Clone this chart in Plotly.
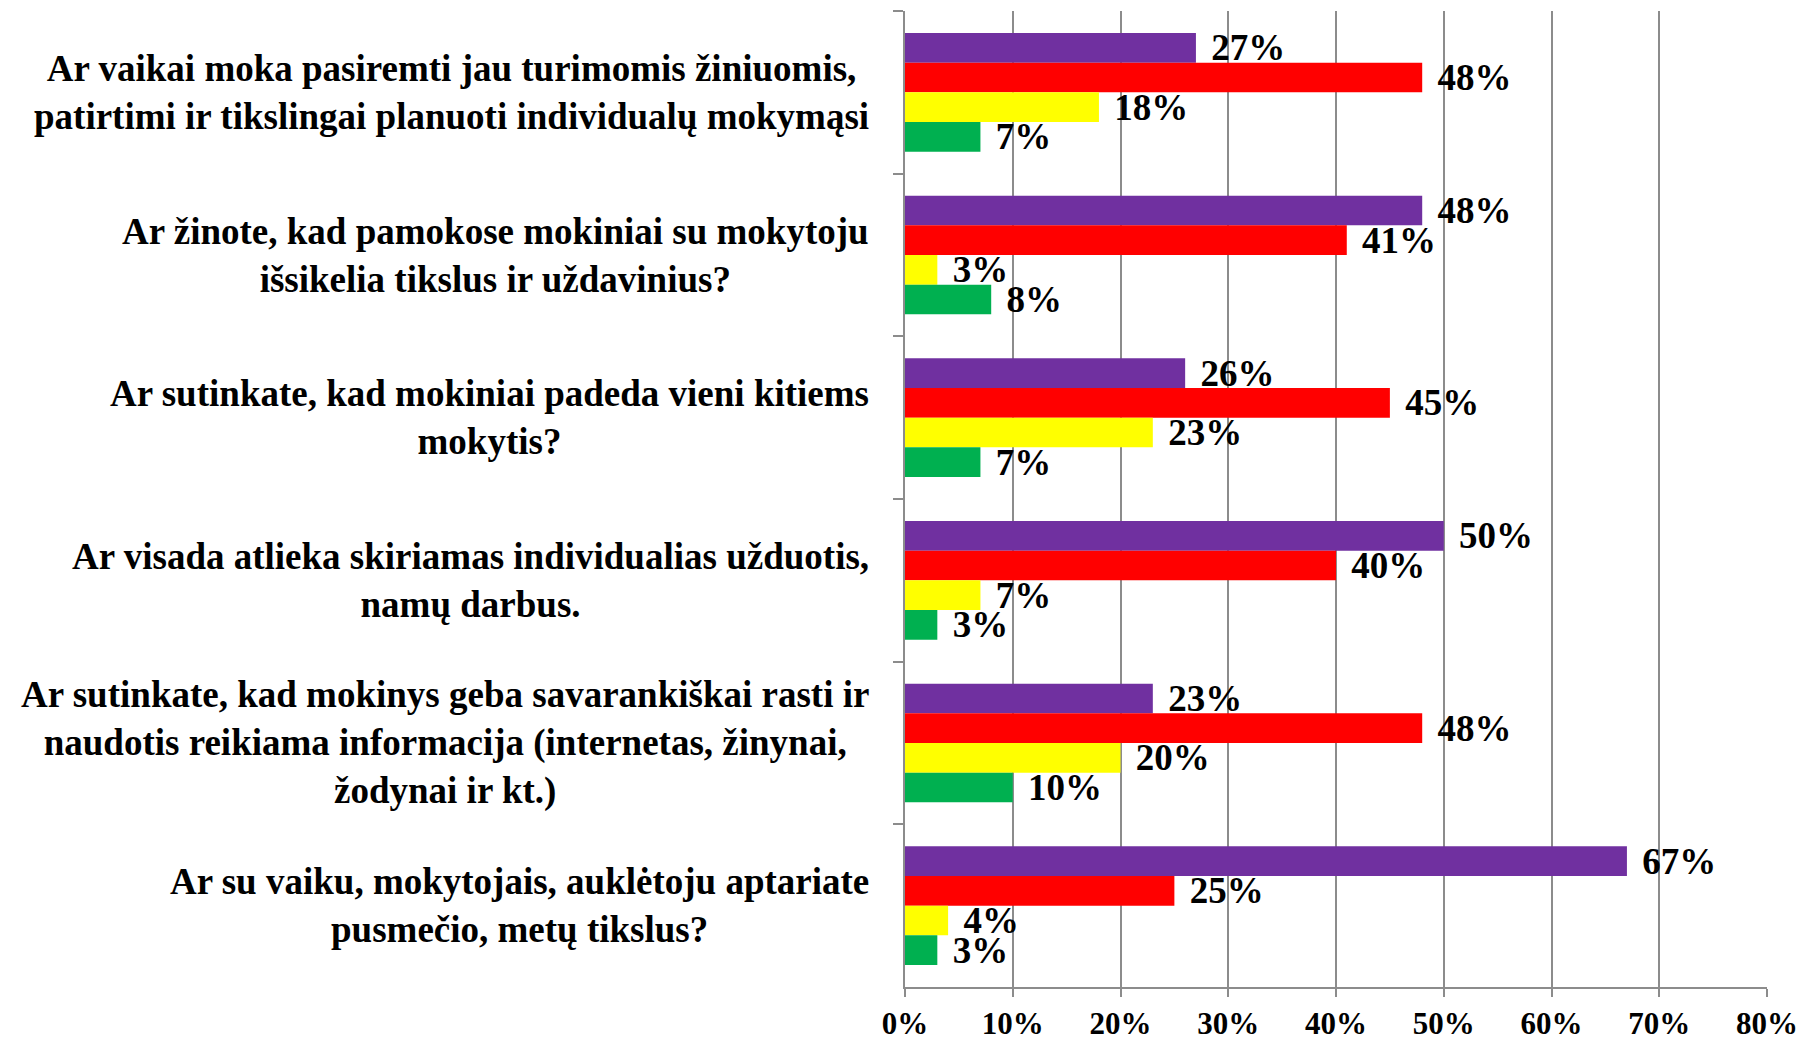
import plotly.graph_objects as go

categories = ["Q1", "Q2", "Q3", "Q4", "Q5", "Q6"]
question_labels = [
    "Ar vaikai moka pasiremti jau turimomis žiniuomis,<br>patirtimi ir tikslingai planuoti individualų mokymąsi",
    "Ar žinote, kad pamokose mokiniai su mokytoju<br>išsikelia tikslus ir uždavinius?",
    "Ar sutinkate, kad mokiniai padeda vieni kitiems<br>mokytis?",
    "Ar visada atlieka skiriamas individualias užduotis,<br>namų darbus.",
    "Ar sutinkate, kad mokinys geba savarankiškai rasti ir<br>naudotis reikiama informacija (internetas, žinynai,<br>žodynai ir kt.)",
    "Ar su vaiku, mokytojais, auklėtoju aptariate<br>pusmečio, metų tikslus?",
]

series_names = ["Serija 1", "Serija 2", "Serija 3", "Serija 4"]
purple_vals = [27, 48, 26, 50, 23, 67]
red_vals = [48, 41, 45, 40, 48, 25]
yellow_vals = [18, 3, 23, 7, 20, 4]
green_vals = [7, 8, 7, 3, 10, 3]

x_ticks = [0, 10, 20, 30, 40, 50, 60, 70, 80]

colors = ["#7030A0", "#FF0000", "#FFFF00", "#00B050"]
all_vals = [purple_vals, red_vals, yellow_vals, green_vals]

FAMILY = "Liberation Serif, Times New Roman, serif"
LABEL_FONT = dict(family=FAMILY, size=37, color="black", weight="bold")
CAT_FONT = dict(family=FAMILY, size=37, color="black", weight="bold")
TICK_FONT = dict(family=FAMILY, size=31, color="black", weight="bold")

fig = go.Figure()
for name, vals, col in zip(series_names, all_vals, colors):
    fig.add_trace(go.Bar(
        y=categories, x=vals, orientation="h", name=name,
        marker=dict(color=col, line=dict(width=0)),
        text=[f"\u00a0\u200a{v}%" for v in vals],
        textposition="outside",
        textfont=LABEL_FONT,
        constraintext="none",
        cliponaxis=False,
        showlegend=False,
        hoverinfo="x+y",
    ))

for cat, label in zip(categories, question_labels):
    fig.add_annotation(
        x=0, xref="paper", y=cat, yref="y", text=label, showarrow=False,
        xanchor="right", yanchor="middle", align="center", xshift=-34,
        font=CAT_FONT,
    )

fig.update_layout(
    width=1816, height=1037,
    margin=dict(l=905, r=49, t=11, b=50, autoexpand=False),
    barmode="group", bargap=0.27, bargroupgap=0,
    plot_bgcolor="white", paper_bgcolor="white",
    showlegend=False,
)
fig.update_xaxes(
    range=[0, 80], tickvals=x_ticks, ticktext=[f"{v}%" for v in x_ticks],
    showgrid=True, gridcolor="#8C8C8C", gridwidth=1.5,
    showline=True, linecolor="#8C8C8C", linewidth=1.5,
    ticks="outside", ticklen=8, tickcolor="#8C8C8C", tickwidth=1.5,
    tickfont=TICK_FONT, zeroline=False, automargin=False,
)
fig.update_yaxes(
    autorange="reversed", showticklabels=False,
    showline=True, linecolor="#8C8C8C", linewidth=1.5,
    ticks="outside", tickson="boundaries", ticklen=10, tickcolor="#8C8C8C", tickwidth=1.5,
    showgrid=False, automargin=False,
)

fig.write_html("out.html", config={"displayModeBar": False},
               post_script="document.body.style.margin='0';")
